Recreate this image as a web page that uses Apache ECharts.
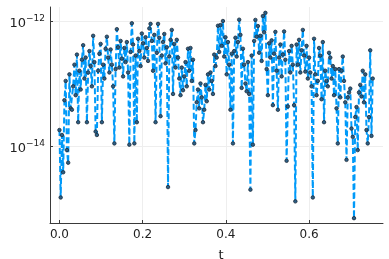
<!DOCTYPE html>
<html>
<head>
<meta charset="utf-8">
<script src="https://cdn.jsdelivr.net/npm/echarts@6/dist/echarts.min.js"></script>
<style>html,body{margin:0;padding:0;background:#fff}#c{width:389px;height:259px}</style>
</head>
<body>
<div id="c"></div>
<script>
var t = [
0,0.003,0.006,0.009,0.012,0.015,0.018,0.021,0.024,0.027,
0.03,0.033,0.036,0.039,0.042,0.045,0.048,0.051,0.054,0.057,
0.06,0.063,0.066,0.069,0.072,0.075,0.078,0.081,0.084,0.087,
0.09,0.093,0.096,0.099,0.102,0.105,0.108,0.111,0.114,0.117,
0.12,0.123,0.126,0.129,0.132,0.135,0.138,0.141,0.144,0.147,
0.15,0.153,0.156,0.159,0.162,0.165,0.168,0.171,0.174,0.177,
0.18,0.183,0.186,0.189,0.192,0.195,0.198,0.201,0.204,0.207,
0.21,0.213,0.216,0.219,0.222,0.225,0.228,0.231,0.234,0.237,
0.24,0.243,0.246,0.249,0.252,0.255,0.258,0.261,0.264,0.267,
0.27,0.273,0.276,0.279,0.282,0.285,0.288,0.291,0.294,0.297,
0.3,0.303,0.306,0.309,0.312,0.315,0.318,0.321,0.324,0.327,
0.33,0.333,0.336,0.339,0.342,0.345,0.348,0.351,0.354,0.357,
0.36,0.363,0.366,0.369,0.372,0.375,0.378,0.381,0.384,0.387,
0.39,0.393,0.396,0.399,0.402,0.405,0.408,0.411,0.414,0.417,
0.42,0.423,0.426,0.429,0.432,0.435,0.438,0.441,0.444,0.447,
0.45,0.453,0.456,0.459,0.462,0.465,0.468,0.471,0.474,0.477,
0.48,0.483,0.486,0.489,0.492,0.495,0.498,0.501,0.504,0.507,
0.51,0.513,0.516,0.519,0.522,0.525,0.528,0.531,0.534,0.537,
0.54,0.543,0.546,0.549,0.552,0.555,0.558,0.561,0.564,0.567,
0.57,0.573,0.576,0.579,0.582,0.585,0.588,0.591,0.594,0.597,
0.6,0.603,0.606,0.609,0.612,0.615,0.618,0.621,0.624,0.627,
0.63,0.633,0.636,0.639,0.642,0.645,0.648,0.651,0.654,0.657,
0.66,0.663,0.666,0.669,0.672,0.675,0.678,0.681,0.684,0.687,
0.69,0.693,0.696,0.699,0.702,0.705,0.708,0.711,0.714,0.717,
0.72,0.723,0.726,0.729,0.732,0.735,0.738,0.741,0.744,0.747,
0.75,0.753
];
var err = [
1.8e-14,1.5e-15,1.5e-14,3.8e-15,5.4e-14,1.1e-13,8.6e-15,5.4e-15,1.4e-13,4.0e-14,
3.8e-14,9e-14,2e-13,6.5e-14,2.9e-13,2.4e-14,1.6e-13,8e-14,2.4e-13,4.1e-13,
1.2e-13,2.6e-13,2.4e-14,1.5e-13,3.3e-13,1.9e-13,9e-14,5.8e-13,2.2e-13,1.7e-14,
1.5e-14,1.6e-13,3e-13,4.3e-13,2.4e-14,2e-13,1.2e-13,3.6e-13,5.6e-13,2.6e-13,
1.5e-13,3.5e-13,2e-13,9e-14,1.1e-14,1.7e-13,7.4e-13,3.8e-13,1.8e-13,4.8e-13,
2.5e-13,1.3e-13,3.7e-13,2.2e-13,4.6e-13,1.5e-13,1.05e-14,3.2e-13,9.2e-13,4.2e-13,
1.1e-14,2.8e-13,2.4e-14,5.2e-13,3.3e-13,1.9e-13,6.3e-13,4.4e-13,2.6e-13,5.5e-13,
3.7e-13,2.3e-13,7.6e-13,9e-13,4.8e-13,1.6e-13,6.0e-13,2.4e-14,3.1e-13,9e-13,
5.4e-13,3.0e-14,2.8e-13,4.6e-13,6.2e-13,2.1e-13,3.8e-13,2.2e-15,2.7e-13,5.0e-13,
7.2e-13,6.8e-14,4.3e-13,1.8e-13,5.0e-13,2.6e-13,1.2e-13,6.5e-14,1.8e-13,7.8e-14,
1.3e-13,2.2e-13,9e-14,3.6e-13,1.6e-13,3.7e-13,1.1e-13,2.4e-13,1.1e-14,1.8e-14,
5e-14,8e-14,4.0e-14,1.0e-13,6e-14,2.4e-14,3.8e-14,9.5e-14,5.2e-14,1.4e-13,
8e-14,1.5e-13,1.1e-13,6.8e-14,2.9e-13,1.9e-13,2.6e-13,8.4e-13,3.2e-13,8.6e-13,
4.0e-13,1.0e-12,2.7e-13,5.5e-13,1.4e-13,4.6e-13,2.0e-13,3.8e-14,3.0e-13,1.1e-14,
3.3e-13,5.4e-13,2.7e-13,4.6e-13,1.05e-12,6.0e-13,8.5e-14,3.6e-13,2.0e-13,1.0e-13,
7.5e-14,2.2e-13,6.8e-14,2.0e-15,2.8e-13,1.05e-14,4.8e-13,1.04e-12,5.6e-13,8.3e-13,
3.1e-13,5.8e-13,2.3e-13,1.2e-12,6.6e-13,1.35e-12,1.7e-13,6.5e-14,4.4e-13,2.6e-13,
4.9e-13,4.5e-14,3.0e-13,6.7e-13,1.6e-13,3.8e-14,2.6e-13,4.2e-13,1.3e-13,2.9e-13,
6.8e-13,2.4e-13,5.8e-15,4.3e-14,3.3e-13,1.5e-13,4.0e-13,2.0e-13,4.5e-14,1.3e-15,
4.2e-13,2.0e-13,5.0e-13,1.5e-13,3.4e-13,7.2e-13,2.8e-13,1.55e-13,4.0e-13,1.2e-13,
2.6e-13,1.5e-13,9e-14,1.5e-15,5.2e-13,1.4e-13,6.5e-14,1.1e-13,3.7e-13,2.8e-13,
5.6e-14,4.6e-13,2.4e-14,1.6e-13,1.1e-13,9e-14,3.1e-13,2.6e-13,1.2e-13,1.9e-13,
6.5e-14,1.7e-13,4.0e-14,1.1e-14,1.7e-13,6e-14,1.6e-13,2.7e-13,1.1e-13,5.0e-14,
6.0e-15,6e-14,7.2e-14,8.3e-14,1.9e-14,1.4e-14,7e-16,2.9e-14,4.2e-14,8.6e-15,
7.2e-14,9.5e-14,6.2e-14,1.6e-13,5e-14,1.4e-13,1.8e-14,1.1e-14,2.9e-14,3.4e-13,1.45e-14,1.2e-13
];
var xTicks = [0, 0.2, 0.4, 0.6];
var yTicks = [1e-14, 1e-12];
var xName = 't';

var data = t.map(function (v, i) { return [v, err[i]]; });

var chart = echarts.init(document.getElementById('c'), null, {renderer: 'canvas'});
var axisCol = '#3a3a3a';
chart.setOption({
  animation: false,
  backgroundColor: '#fff',
  grid: {left: 50, right: 6, top: 7, bottom: 36, containLabel: false, outerBoundsMode: 'none'},
  title: {
    text: xName, left: 216, top: 244, textAlign: 'center',
    textStyle: {fontFamily: 'DejaVu Sans', fontSize: 13, fontWeight: 'normal', color: '#222'}
  },
  xAxis: {
    type: 'value',
    min: -0.0227, max: 0.7777,
    axisLine: {show: true, onZero: false, lineStyle: {color: axisCol, width: 1}},
    axisTick: {show: true, inside: true, length: 3, customValues: xTicks, lineStyle: {color: axisCol}},
    axisLabel: {customValues: xTicks, fontFamily: 'DejaVu Sans', fontSize: 12, color: '#222', margin: 6,
      formatter: function (v) { return v.toFixed(1); }},
    splitLine: {show: true, lineStyle: {color: '#eeeeee', width: 1}}
  },
  yAxis: {
    type: 'log', logBase: 10,
    min: 5.86e-16, max: 1.675e-12,
    axisLine: {show: true, onZero: false, lineStyle: {color: axisCol, width: 1}},
    axisTick: {show: true, inside: true, length: 3, customValues: yTicks, lineStyle: {color: axisCol}},
    axisLabel: {customValues: yTicks, margin: 5, color: '#222',
      formatter: function (v) {
        var e = Math.round(Math.log10(v));
        return '{b|10}{s|\u2212' + Math.abs(e) + '}';
      },
      rich: {
        b: {fontFamily: 'DejaVu Sans', fontSize: 13, color: '#222', padding: [6, 0, 0, 0]},
        s: {fontFamily: 'DejaVu Sans', fontSize: 9, color: '#222', padding: [0, 0, 4, 0]}
      }
    },
    splitLine: {show: true, lineStyle: {color: '#eeeeee', width: 1}}
  },
  series: [{
    type: 'line',
    data: data,
    showSymbol: true,
    symbol: 'circle',
    symbolSize: 3.5,
    itemStyle: {color: '#2b5f86', borderColor: '#1c2a38', borderWidth: 0.8},
    lineStyle: {color: '#009af9', width: 2, type: [6, 3]},
    emphasis: {disabled: true}
  }]
});
</script>
</body>
</html>
